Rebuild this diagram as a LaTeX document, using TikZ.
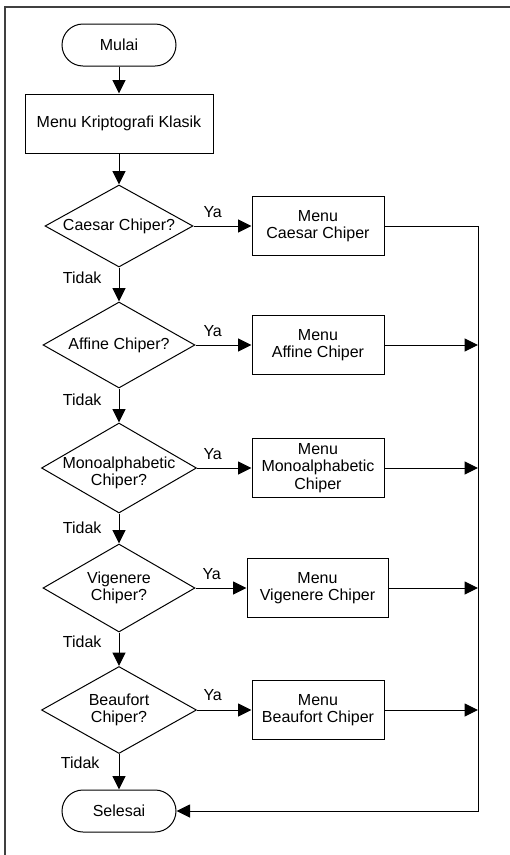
\documentclass[tikz,border=0pt]{standalone}
\usepackage{fontspec}
\setmainfont{Liberation Sans}
\usetikzlibrary{shapes.geometric,shapes.misc,arrows.meta,calc}

\begin{document}
\begin{tikzpicture}[x=1pt,y=-1pt,
  font=\fontsize{16}{17.5}\selectfont,
  line width=1pt,
  term/.style={draw, rounded rectangle, minimum width=114pt, minimum height=42pt, inner sep=0pt},
  proc/.style={draw, rectangle, minimum width=132pt, minimum height=59pt, inner sep=0pt, align=center},
  dec/.style={draw, diamond, inner sep=0pt},
  dtext/.style={align=center, inner sep=0pt},
  arr/.style={-{Triangle[length=13.5pt,width=13pt]}},
  lbl/.style={inner sep=0pt},
]
\useasboundingbox (0,0) rectangle (510,855);

% page frame (top and left edges)
\draw[line width=1.5pt, black!75] (5,855) -- (5,7) -- (510,7);

% main column
\node[term] (start) at (119,45) {Mulai};
\node[proc, minimum width=188pt] (menu) at (119,123.5) {Menu Kriptografi Klasik};

\node[dec, minimum width=148pt, minimum height=82pt] (d1) at (119,226) {};
\node[dtext] (q1) at (d1) {Caesar Chiper?};
\node[dec, minimum width=152pt, minimum height=86pt] (d2) at (119,345) {};
\node[dtext] (q2) at (d2) {Affine Chiper?};
\node[dec, minimum width=155pt, minimum height=90pt] (d3) at (119,468) {};
\node[dtext] (q3) at ($(d3)+(0,5)$) {Monoalphabetic\\Chiper?};
\node[dec, minimum width=152pt, minimum height=88pt] (d4) at (119,588) {};
\node[dtext] (q4) at (d4) {Vigenere\\Chiper?};
\node[dec, minimum width=155pt, minimum height=87pt] (d5) at (119,710) {};
\node[dtext] (q5) at (d5) {Beaufort\\Chiper?};

\node[term] (end) at (119,811) {Selesai};

% menu boxes
\node[proc] (m1) at (318,226) {Menu\\Caesar Chiper};
\node[proc] (m2) at (318,345) {Menu\\Affine Chiper};
\node[proc] (m3) at (318,468) {Menu\\Monoalphabetic\\Chiper};
\node[proc, minimum width=141pt] (m4) at (317.5,588) {Menu\\Vigenere Chiper};
\node[proc] (m5) at (318,710) {Menu\\Beaufort Chiper};

% return bus
\coordinate (bus) at (478,0);

% vertical flow
\draw[arr] (start.south) -- (menu.north);
\draw[arr] (menu.south) -- (d1.north);
\draw[arr] (d1.south) -- (d2.north);
\draw[arr] (d2.south) -- (d3.north);
\draw[arr] (d3.south) -- (d4.north);
\draw[arr] (d4.south) -- (d5.north);
\draw[arr] (d5.south) -- (end.north);

% yes branches
\draw[arr] (d1.east) -- (m1.west);
\draw[arr] (d2.east) -- (m2.west);
\draw[arr] (d3.east) -- (m3.west);
\draw[arr] (d4.east) -- (m4.west);
\draw[arr] (d5.east) -- (m5.west);

% back to the end terminal
\draw[arr] (m1.east) -| (end.east -| bus) -- (end.east);
\draw[arr] (m2.east) -- (m2.east -| bus);
\draw[arr] (m3.east) -- (m3.east -| bus);
\draw[arr] (m4.east) -- (m4.east -| bus);
\draw[arr] (m5.east) -- (m5.east -| bus);

% branch labels
\node[lbl, anchor=base west] (y1) at (203,217) {Ya};
\node[lbl, anchor=base west] (y2) at (203,336) {Ya};
\node[lbl, anchor=base west] (y3) at (203,459) {Ya};
\node[lbl, anchor=base west] (y4) at (202,579) {Ya};
\node[lbl, anchor=base west] (y5) at (203,700) {Ya};

\node[lbl, anchor=base east] (n1) at (102,283) {Tidak};
\node[lbl, anchor=base east] (n2) at (102,405) {Tidak};
\node[lbl, anchor=base east] (n3) at (102,533) {Tidak};
\node[lbl, anchor=base east] (n4) at (102,647) {Tidak};
\node[lbl, anchor=base east] (n5) at (100,768) {Tidak};
\end{tikzpicture}
\end{document}
